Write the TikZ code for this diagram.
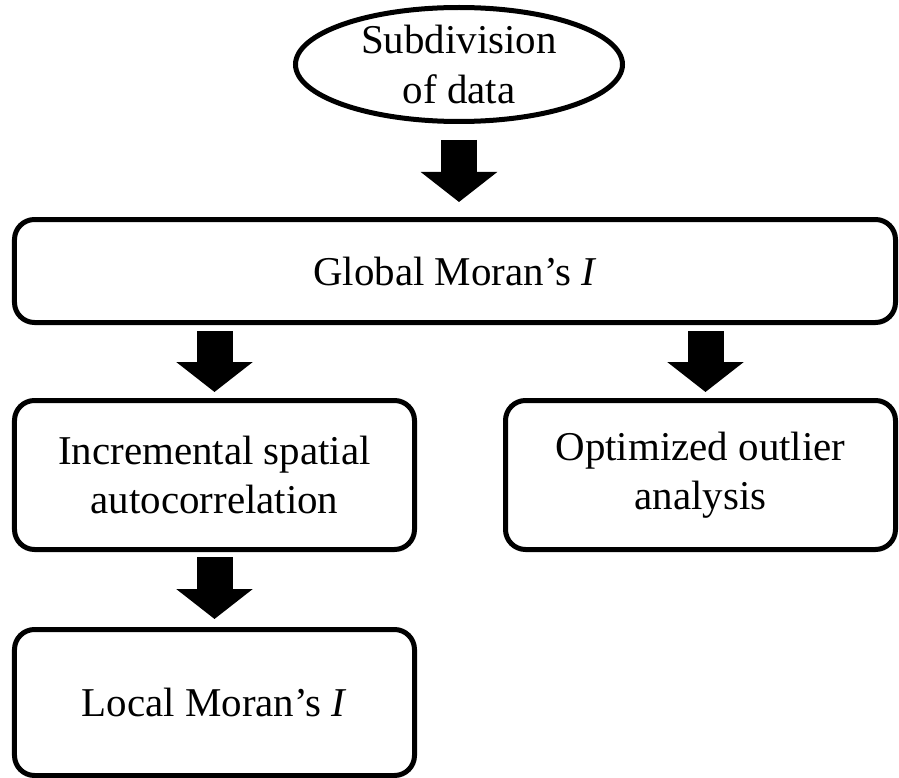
\documentclass[tikz,border=0pt]{standalone}
\usepackage{fontspec}
\setmainfont{Liberation Serif}
\usetikzlibrary{shapes.geometric,arrows.meta,positioning}

\begin{document}
\begin{tikzpicture}[
    node distance=1.5cm,
    font=\fontsize{23.3pt}{27.9pt}\selectfont,
    stepbox/.style={rectangle,draw,line width=0.1cm,rounded corners=0.4cm,align=center},
    startnode/.style={ellipse,draw,line width=0.1cm,align=center,
                      minimum width=6.54cm,minimum height=2.28cm,inner sep=0pt,inner ysep=-0.15cm},
    bigarrow/.style={line width=0.72cm,-{Triangle[width=1.5cm,length=0.6cm]}},
]
\useasboundingbox (0,0) rectangle (17.98,-15.56);
\node[startnode] (sub) at (9.18,-1.29) {Subdivision\\of data};
\node[stepbox,minimum width=17.62cm,minimum height=2.06cm,below=1.86cm of sub,xshift=-0.08cm] (glob) {Global Moran’s \textit{I}};
\node[stepbox,minimum width=8.0cm,minimum height=2.98cm,below right=1.46cm and 0cm of glob.south west] (incr) {Incremental spatial\\autocorrelation};
\node[stepbox,minimum width=7.8cm,minimum height=2.98cm,below left=1.46cm and 0cm of glob.south east] (outl) {Optimized outlier\\analysis};
\node[stepbox,minimum width=8.0cm,minimum height=2.92cm,below=1.5cm of incr] (local) {Local Moran’s \textit{I}};

% block arrows
\draw[bigarrow,shorten <=0.32cm,shorten >=0.3cm] (sub.south) -- (sub.south |- glob.north);
\draw[bigarrow,shorten <=0.12cm,shorten >=0.12cm] (incr.north |- glob.south) -- (incr.north);
\draw[bigarrow,shorten <=0.12cm,shorten >=0.12cm] ([xshift=0.1cm]outl.north |- glob.south) -- ([xshift=0.1cm]outl.north);
\draw[bigarrow,shorten <=0.1cm,shorten >=0.16cm] (incr.south) -- (local.north);
\end{tikzpicture}
\end{document}
